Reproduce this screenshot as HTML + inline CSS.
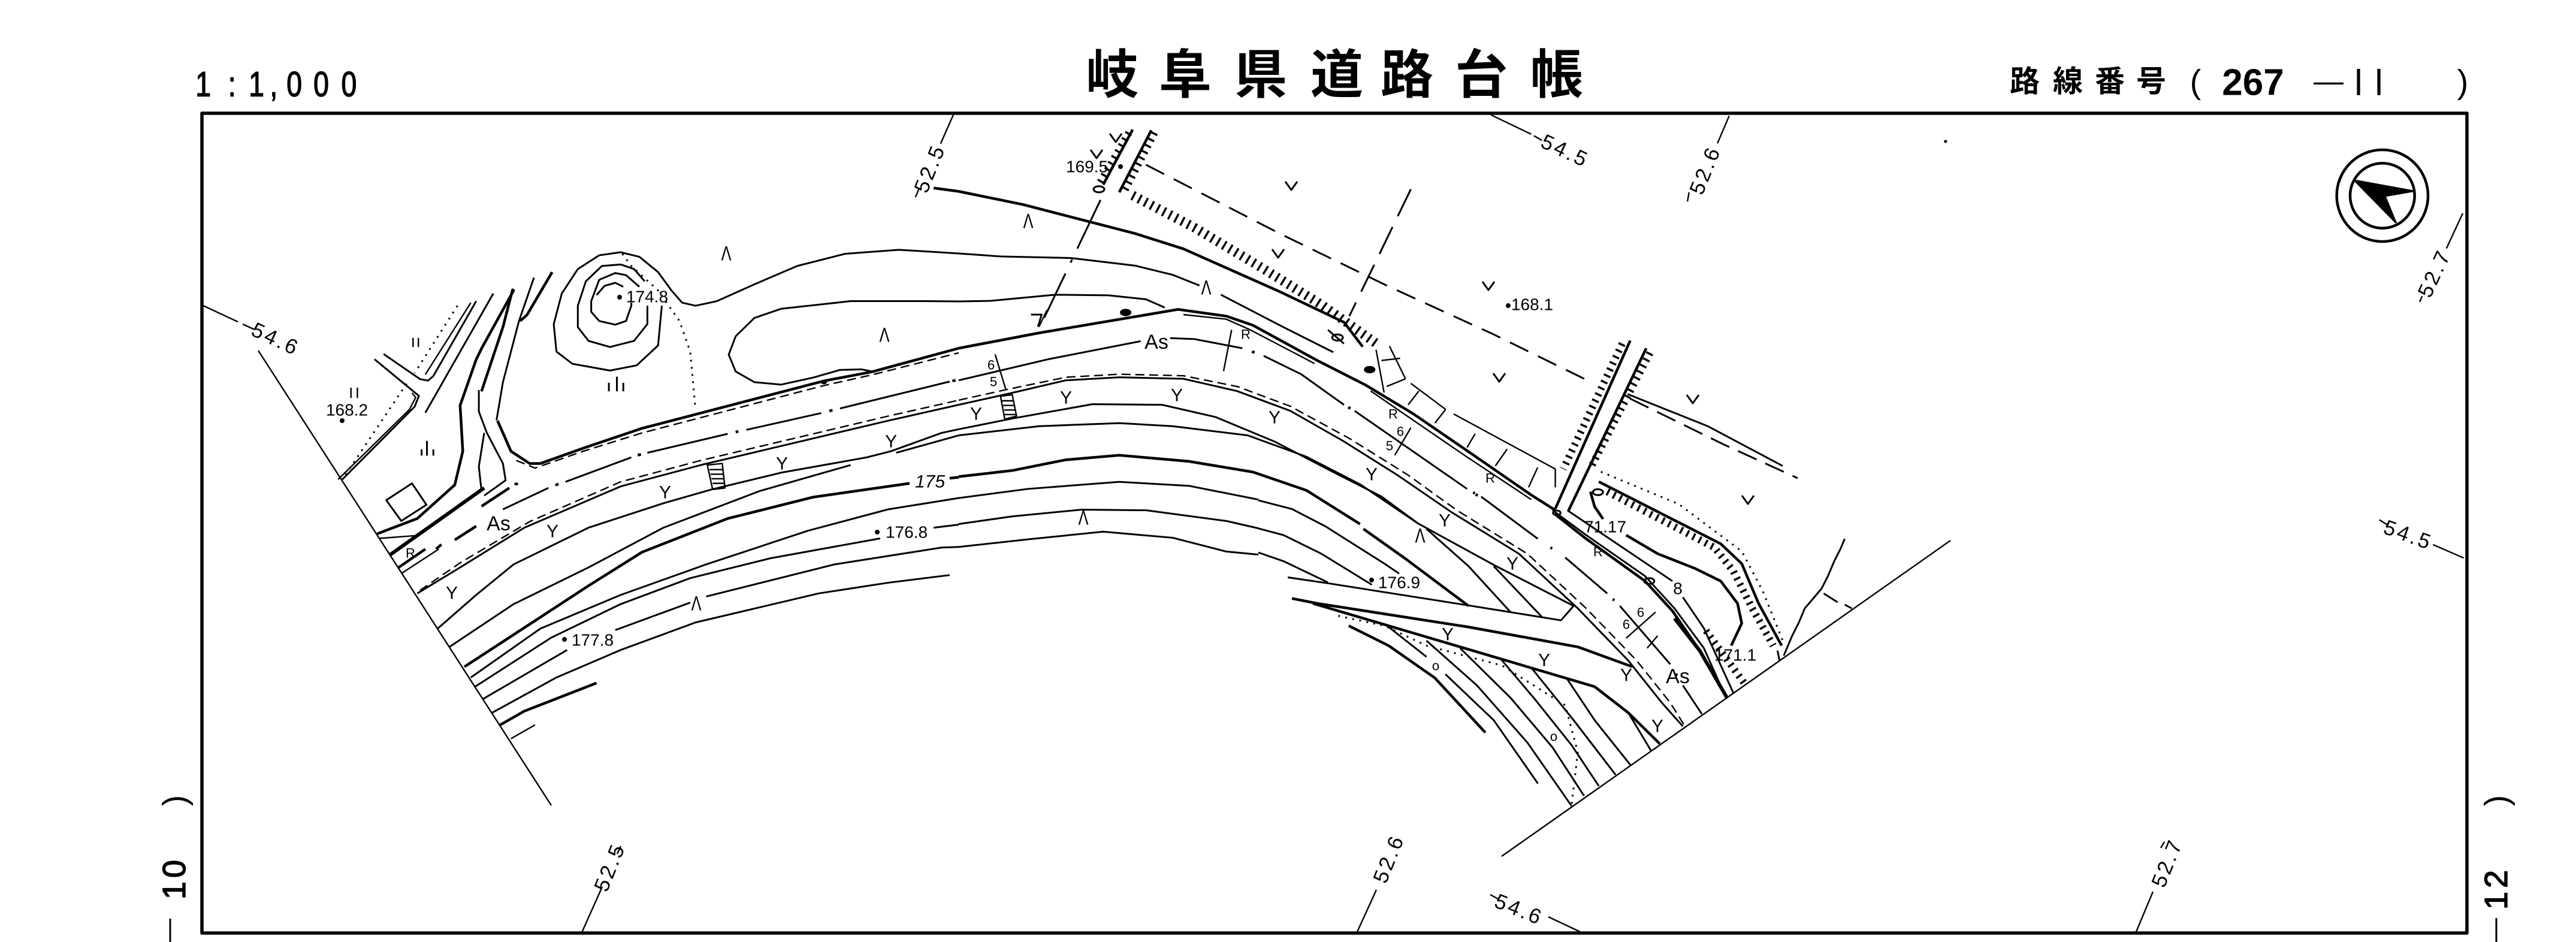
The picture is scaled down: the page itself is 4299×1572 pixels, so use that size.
<!DOCTYPE html>
<html><head><meta charset="utf-8"><style>
html,body{margin:0;padding:0;background:#fff}
svg{display:block}
path,ellipse,circle{vector-effect:non-scaling-stroke;fill:none;stroke:#000;stroke-width:3;stroke-linejoin:round}
.t{stroke-width:4.5}.h{stroke-width:6}.n{stroke-width:2.4}
.d{stroke-dasharray:15 8}.l{stroke-dasharray:34 16;stroke-width:3}
.o{stroke-dasharray:3 9;stroke-width:3}
.k{stroke-dasharray:3.5 8;stroke-width:16}.k2{stroke-dasharray:3.5 8;stroke-width:12}
.f{fill:#000}
text{font-family:"Liberation Sans","Noto Sans CJK JP",sans-serif;fill:#000;text-anchor:middle;dominant-baseline:central}
.y{font-size:30px}.m{font-size:34px}.v{font-size:28px}.g{font-size:35px;letter-spacing:4px}.r{font-size:22px}
.b{stroke:#000;stroke-width:1.5}
</style></head><body>
<svg xmlns="http://www.w3.org/2000/svg" width="4299" height="1572" viewBox="0 0 4299 1572">
<rect width="4299" height="1572" fill="#fff"/>
<path d="M337 189H4117V1557H337Z" style="stroke-width:5.5"/>

<text x="1856 1978 2104 2231 2348 2472 2598" y="125" style="font-size:88px;font-weight:700">岐阜県道路台帳</text>
<g transform="scale(.8,1)"><text class="b" x="424 484 535 571 614 670 728" y="141" style="font-size:58px">1:1,000</text></g>
<text x="3379 3451 3521 3590" y="136" style="font-size:50px;font-weight:700">路線番号</text>
<text x="3664" y="136" style="font-size:56px">(</text>
<text x="3760" y="138" style="font-size:62px;font-weight:700">267</text>
<text x="3886" y="135" style="font-size:50px">—</text>
<text x="3936 3970" y="138" style="font-size:60px">ll</text>
<text x="4110" y="136" style="font-size:56px">)</text>
<text transform="translate(291,1336) rotate(-90)" style="font-size:56px">)</text>
<text class="b" transform="translate(291,1465) rotate(-90)" style="font-size:54px;letter-spacing:6px">10</text>
<text transform="translate(4166,1336) rotate(-90)" style="font-size:56px">)</text>
<text class="b" transform="translate(4166,1482) rotate(-90)" style="font-size:54px;letter-spacing:6px">12</text>
<path d="M284 1533V1572M4166 1532V1572"/>

<!-- grid ticks -->
<text class="g" transform="translate(1552,281) rotate(-68)">52.5</text>
<text class="g" transform="translate(2612,252) rotate(25)">54.5</text>
<text class="g" transform="translate(2846,284) rotate(-68)">52.6</text>
<text class="g" transform="translate(4063,456) rotate(-65)">52.7</text>
<text class="g" transform="translate(4019,893) rotate(20)">54.5</text>
<text class="g" transform="translate(460,566) rotate(25)">54.6</text>
<text class="g" transform="translate(1018,1447) rotate(-68)">52.5</text>
<text class="g" transform="translate(2318,1433) rotate(-68)">52.6</text>
<text class="g" transform="translate(3617,1440) rotate(-68)">52.7</text>
<text class="g" transform="translate(2535,1518) rotate(22)">54.6</text>
<path class="n" d="M971 1556L1005 1480M2265 1555L2297 1485M3565 1555L3593 1488M2637 1555L2584 1530M2487 1493L2500 1500M1036 1412L1030 1425M3612 1405L3606 1415"/>
<path class="n" d="M3255 902L2506 1429M339 510L397 537M405 541L425 550M431 585L920 1344"/>

<!-- Z1 -->
<g transform="translate(250,0) scale(.8929,.5102)">
<path class="n" d="M1502 375L1478 470M1437 620L1431 645"/>
<path class="t" d="M610 1176L620 1140L680 950L678 948L660 1070L620 1280"/>
<path d="M648 1375L660 1250L690 1050L718 908"/>
<path class="t" d="M692 1050L705 1030L752 890"/>
<path d="M515 1350L642 960"/>
<path d="M420 1175L503 1295L495 1330L360 1568"/>
<path class="n" d="M490 1285L497 1300L485 1340L352 1568"/>
<path d="M437 1158L505 1240L520 1245L530 1230L610 985"/>
<path class="n" d="M515 1225L600 990"/>
<path class="o" d="M575 1000L495 1220M480 1255L360 1568"/>
<path d="M957 1000L950 1130L910 1195L860 1212L790 1190L760 1150L755 1060L770 960L800 880L840 835L880 825L915 840L950 890L975 950L995 990L1020 1000L1060 985L1130 930L1210 870L1300 830L1400 817L1512 829"/>
<path d="M930 1000L930 1060L905 1115L860 1135L820 1115L800 1070L800 1000L815 920L845 870L880 865L905 880L925 920"/>
<path d="M915 938L890 900L870 893L840 915L825 985L825 1020L840 1050L870 1062L890 1050L900 1000L900 990"/>
<path d="M885 938L870 925L850 935L835 965"/>
<path class="o" d="M883 830L900 870L950 950L990 1050L1010 1150L1020 1340"/>
<path d="M1350 1215L1330 1208L1290 1210L1240 1235L1180 1258L1130 1250L1095 1215L1082 1160L1095 1100L1130 1040L1180 1010L1310 985L1450 985L1512 986"/>
<path class="t" d="M1465 615L1512 626"/>
<path d="M858 1280V1252M873 1280V1232M885 1280V1252M508 1490V1470M518 1490V1442M530 1490V1470"/>
<path class="n" d="M492 1105V1135M502 1105V1135M376 1268V1302M388 1268V1302"/>
<circle class="f" cx="1260" cy="1250" r="4"/>
</g>

<!-- Z2 -->
<g transform="translate(500,600) scale(.8929,.5102)">
<path class="t" d="M370 200L395 300L430 340L450 340L530 290L640 225L980 70L1070 40L1232 -37"/>
<path class="d n" d="M405 330L440 355L530 300L640 240L980 85L1070 50L1232 -22"/>
<path d="M380 490L465 420M497 400L620 320M650 305L800 243M835 230L975 175M1010 160L1215 72M1232 68"/>
<path class="t" d="M478 411L484 407M632 313L638 310M815 237L820 235M990 168L996 166M1220 70L1226 68"/>
<path d="M220 765L300 680L420 550L600 415L750 345L1100 200L1232 148"/>
<path class="d n" d="M225 755L300 665L430 530L600 400L750 330L1100 185L1232 133"/>
<path d="M258 880L330 770L400 670L540 550L680 470L770 425L900 370L1060 320L1105 300L1200 240L1232 228"/>
<path d="M280 940L400 800L540 680L680 550L860 430L1030 345M1115 305L1232 248"/>
<path class="t" d="M308 1005L400 900L540 740L640 630L800 520L960 450L1140 405M1215 388L1232 385"/>
<path d="M320 1040L450 880L600 770L760 670L950 560L1100 490L1232 453"/>
<path d="M328 1070L470 910L600 800L730 715L880 650L1085 585M1185 550L1232 540"/>
<path d="M343 1110L500 950M590 885L730 795M760 775L1000 670L1200 615L1232 613"/>
<path d="M360 1155L480 1040L600 950L740 860L970 765L1100 730L1215 705"/>
<path class="t" d="M375 1195L420 1150L555 1058"/>
<path class="n" d="M395 1240L440 1195"/>
<path class="t" d="M145 570L220 520L290 410L305 300L300 150L330 0"/>
<path class="n" d="M148 585L225 575"/>
<path d="M335 100L335 170L350 240L380 340L385 395L345 445M345 240L335 350L340 430"/>
<path class="h" d="M168 640L345 420"/>
<path class="t" d="M185 680L235 620M255 620L265 605M290 590L330 545M340 480L392 420"/>
<path class="n" d="M190 700L260 620"/>
<circle class="f" cx="405" cy="407" r="2"/>
<path d="M162 460L210 405L237 475L190 528Z"/>
<path class="n" d="M762 345L790 340L795 420L772 425ZM1310 120L1332 115L1340 185L1318 195Z M766 360H792M768 375H792M770 390H794M772 405H794M1313 135H1334M1315 150H1336M1317 165H1338M1318 180H1340"/>
</g>

<!-- Z3 -->
<g transform="translate(1600,150) scale(.8929,.5102)">
<path class="n" d="M995 82L1070 145M1075 150L1090 165M1440 85L1418 175M1365 335L1362 365"/>
<path class="t" d="M0 332L120 375L330 470L420 520L600 660L720 760L755 840"/>
<path d="M0 535L80 545L210 550L330 575L400 605L450 640M490 670L600 770L700 858"/>
<path d="M0 692L60 690L180 670L280 672L350 685L385 712"/>
<path class="t" d="M0 845L150 795L410 718L500 740L550 770L670 885L760 965L850 1060L950 1180L1070 1325L1115 1375"/>
<path class="n" d="M420 735L500 750L545 785L665 895M770 985L845 1075L945 1195L1070 1340"/>
<path d="M0 950L170 880L340 822M395 812L440 815L530 845M570 870L640 930L720 1030M740 1050L950 1305"/>
<path class="t" d="M548 856L553 859M728 1038L732 1042M966 1323L970 1327"/>
<path d="M0 1030L90 995L200 950L300 940L420 945L520 985L620 1050L720 1150L820 1260L920 1380"/>
<path class="d n" d="M0 1015L90 980L200 940L300 930L420 935L520 970L620 1035L730 1140L840 1260L935 1380"/>
<path d="M0 1110L100 1075L250 1028L380 1030L480 1070L590 1150L700 1250L790 1330L860 1420"/>
<path d="M0 1130L150 1100L300 1090L400 1100L540 1130L650 1200L750 1290L860 1420"/>
<path class="t" d="M0 1265L100 1245L200 1210L300 1195L430 1215L550 1250L650 1310L750 1420"/>
<path d="M0 1335L130 1305L300 1282L430 1295L560 1340"/>
<path d="M0 1420L100 1395L230 1373L350 1375L500 1410L560 1434"/>
<path d="M0 1495L130 1470L270 1445L400 1465L500 1510L560 1520"/>
<path class="t" d="M325 130L270 310M360 132L300 335"/>
<path class="k2" d="M318 140L262 310"/><path class="k2" d="M366 140L310 330"/>
<path class="k" d="M325 345L440 450L560 575L680 705L785 835"/>
<circle cx="262" cy="325" r="10"/>
<path style="stroke-dasharray:34 18" d="M350 245L600 470L800 640L1000 800L1175 950"/>
<path style="stroke-dasharray:50 20" d="M845 325L730 740"/>
<path style="stroke-dasharray:90 20 6 20" d="M265 360L160 745"/>
<path d="M1250 995L1400 1100L1540 1230"/>
<path class="l" d="M1255 1010L1430 1160L1568 1270"/>
<path class="t" d="M1255 820L1115 1370M1285 845L1140 1375"/>
<path class="k2" d="M1240 830L1130 1240"/><path class="k2" d="M1292 860L1180 1240"/>
<path class="n" d="M68 865L88 980M510 785L495 920M845 1105L815 1195M165 720L150 775"/>
<path d="M135 735H155L148 775"/>
<path class="n" d="M805 838L835 945M845 960L910 1045M925 1060L1115 1240"/>
<path class="n" d="M780 850L795 990M790 885L825 878M800 970L835 945M840 1030L860 985M890 1090L910 1045M950 1170L965 1125M1003 1230L1025 1175M1065 1300L1082 1235M1115 1300L1115 1240"/>
<circle class="f" cx="768" cy="915" r="9"/>
<circle class="f" cx="312" cy="728" r="9"/>
<circle cx="708" cy="810" r="10"/><path d="M690 785L720 830"/>
</g>

<!-- Z4 -->
<g transform="translate(2100,750) scale(.7015,.4145)">
<path d="M700 245L780 345L920 510L990 640L1060 800L1110 990"/>
<path class="t" d="M705 260L780 360L920 530L985 650L1050 810L1115 1000"/>
<path d="M735 245L985 530M1010 595L1060 720L1130 980"/>
<path d="M530 190L665 360M730 435L830 580M860 630L980 865M1010 950L1055 1065"/>
<path class="t" d="M511 173L515 177M695 395L699 399M843 603L847 607M993 905L997 909"/>
<path d="M458 251L620 420L760 640L880 850L960 1020L1010 1115"/>
<path class="d n" d="M478 251L640 420L780 640L900 850L980 1020L1015 1115"/>
<path d="M382 300L560 465L750 630L720 688L500 628L170 540L70 515"/>
<path class="t" d="M80 600L140 620L500 715L760 795L890 875"/>
<path class="t" d="M130 620L300 705L470 790L800 955L880 1060L955 1185"/>
<path d="M400 320L500 470L600 655M560 470L675 675"/>
<path class="t" d="M250 320L350 440L500 630"/>
<path d="M0 205L80 240L160 310L300 460L335 500"/>
<path d="M0 318L60 345L150 420L270 545"/>
<path d="M0 415L60 450L165 535"/>
<path d="M735 925L800 1090L885 1270M650 880L750 1090L850 1310M575 840L660 1010L745 1190L810 1355M480 800L600 1000L700 1200L775 1395M310 715L400 835M400 770L520 950L640 1180L745 1435M880 1060L935 1215M445 905L560 1090L665 1345"/>
<path class="t" d="M215 710L310 790L420 920L540 1140"/>
<path class="o" d="M190 670L300 710L400 790L580 870L730 1030L760 1220L745 1435"/>
<path class="t" d="M875 345L950 420L1040 480L1100 530L1140 620L1150 700L1125 790M790 170L800 230L820 280"/>
<path class="t" d="M810 130L1100 380L1150 460L1190 620L1245 790"/>
<path class="o" d="M815 90L1000 220L1150 410L1200 570L1250 780"/>
<path class="k2" d="M830 170L1085 395L1130 490L1175 640L1225 790"/>
<path class="k2" d="M1065 730L1160 950"/>
<path class="h" d="M990 680L1050 810L1115 1000"/>
<path d="M1395 360L1385 400L1370 450L1355 510L1340 560L1300 640L1285 700L1270 750L1250 830M1345 580L1378 615M1395 625L1412 640M1235 810L1240 850"/>
<circle cx="808" cy="172" r="12"/>
<circle cx="930" cy="530" r="12"/>
<circle cx="710" cy="255" r="9"/>
<path class="n" d="M945 655L875 760M925 800L950 750"/>
</g>

<!-- Z5 -->
<g transform="translate(3000,0) scale(.8284,.6378)">
<ellipse cx="1178" cy="512" rx="92" ry="120" style="stroke-width:4.5"/>
<ellipse cx="1178" cy="512" rx="65" ry="85" style="stroke-width:4.5"/>
<path class="f" d="M1122 472L1240 500L1183 513L1205 582Z"/>
<path class="n" d="M1340 558L1307 650M1258 775L1253 790M1280 1425L1342 1460M1172 1360L1190 1375"/>
<circle class="f" cx="298" cy="370" r="1.5"/>
</g>

<!-- V marks -->
<path d="M2145 303L2155 317L2165 303M2123 416L2133 430L2143 416M2474 470L2484 484L2494 470M2492 623L2502 637L2512 623M2815 659L2825 673L2835 659M2907 827L2917 841L2927 827M1852 223L1862 237L1872 223M1820 250L1830 264L1840 250"/>

<!-- Y -->
<g class="y">
<text x="754" y="990">Y</text><text x="922" y="887">Y</text><text x="1110" y="822">Y</text><text x="1305" y="774">Y</text><text x="1487" y="737">Y</text><text x="1629" y="691">Y</text><text x="1779" y="664">Y</text><text x="1964" y="660">Y</text><text x="2127" y="697">Y</text><text x="2289" y="792">Y</text><text x="2411" y="869">Y</text><text x="2524" y="941">Y</text><text x="2416" y="1059">Y</text><text x="2577" y="1102">Y</text><text x="2714" y="1127">Y</text><text x="2766" y="1212">Y</text>
</g>
<!-- Lambda -->
<g class="m">
<text transform="translate(1212,424) scale(.75,1)">Λ</text><text transform="translate(1476,560) scale(.75,1)">Λ</text><text transform="translate(1808,865) scale(.75,1)">Λ</text><text transform="translate(1162,1008) scale(.75,1)">Λ</text><text transform="translate(1716,370) scale(.75,1)">Λ</text><text transform="translate(2013,481) scale(.75,1)">Λ</text><text transform="translate(2370,895) scale(.75,1)">Λ</text>
</g>
<!-- numbers -->
<g class="v">
<text x="1080" y="495">174.8</text><text x="579" y="684">168.2</text><text x="1814" y="278">169.5</text><text x="2557" y="508">168.1</text><text x="1513" y="888">176.8</text><text x="989" y="1068">177.8</text><text x="2335" y="972">176.9</text><text x="2679" y="879">71.17</text><text x="2896" y="1093">171.1</text>
</g>
<text x="1552" y="804" style="font-size:30px;font-style:italic">175</text>
<circle class="f" cx="1034" cy="496" r="2.5"/><circle class="f" cx="571" cy="702" r="2.5"/><circle class="f" cx="1870" cy="278" r="2.5"/><circle class="f" cx="2517" cy="510" r="2.5"/><circle class="f" cx="1464" cy="888" r="2.5"/><circle class="f" cx="942" cy="1067" r="2.5"/><circle class="f" cx="2289" cy="968" r="2.5"/>
<g style="font-size:34px">
<text x="832" y="874">As</text><text x="1930" y="571">As</text><text x="2800" y="1129">As</text>
</g>
<g class="r">
<text x="2079" y="558">R</text><text x="2325" y="691">R</text><text x="2487" y="798">R</text><text x="2667" y="921">R</text><text x="685" y="923">R</text>
<text x="1654" y="609">6</text><text x="1658" y="637">5</text><text x="2337" y="720">6</text><text x="2319" y="744">5</text><text x="2738" y="1022">6</text><text x="2714" y="1042">6</text><text x="2396" y="1111">o</text><text x="2593" y="1229">o</text>
</g>
<text transform="translate(2800,982)" style="font-size:28px">8</text>
</svg>
</body></html>
